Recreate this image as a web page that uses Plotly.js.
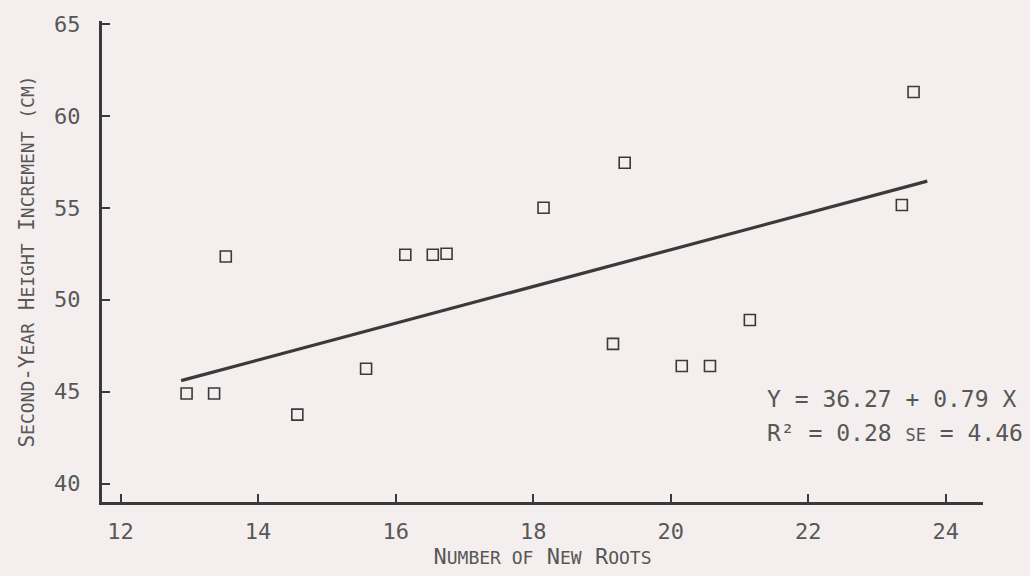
<!DOCTYPE html>
<html>
<head>
<meta charset="utf-8">
<script src="https://cdn.plot.ly/plotly-3.0.1.min.js"></script>
<style>html,body{margin:0;padding:0;background:#f4efee;}#chart{width:1030px;height:576px;}</style>
</head>
<body>
<div id="chart"></div>
<script>
// Data
const rootsX = [12.96, 13.36, 13.53, 14.57, 15.57, 16.14, 16.54, 16.74, 18.15, 19.33, 19.16, 20.16, 20.57, 21.15, 23.36, 23.53];
const heightY = [44.9, 44.9, 52.35, 43.75, 46.25, 52.45, 52.45, 52.5, 55.0, 57.45, 47.6, 46.4, 46.4, 48.9, 55.15, 61.3];
const fitX = [12.88, 23.73];
const fitY = [45.6, 56.45];
const xTicks = [12, 14, 16, 18, 20, 22, 24];
const yTicks = [40, 45, 50, 55, 60, 65];
const eqLine1 = "Y = 36.27 + 0.79 X";
const eqLine2 = "R² = 0.28 <span style='font-size:17px'>SE</span> = 4.46";

const FONT = "'DejaVu Sans Mono', 'Liberation Mono', monospace";
const TXT = "#575757";
const INK = "#3a3a3a";

const traces = [
  {
    x: fitX, y: fitY, type: "scatter", mode: "lines",
    line: {color: INK, width: 3.2}, hoverinfo: "skip", showlegend: false
  },
  {
    x: rootsX, y: heightY, type: "scatter", mode: "markers",
    marker: {symbol: "square-open", size: 11, color: INK, line: {color: INK, width: 1.6}},
    showlegend: false
  }
];

const layout = {
  width: 1030, height: 576,
  paper_bgcolor: "#f4efee", plot_bgcolor: "#f4efee",
  margin: {l: 102, r: 47, t: 21, b: 74},
  font: {family: FONT, color: TXT, size: 22},
  xaxis: {
    range: [11.73, 24.54], tickvals: xTicks, ticktext: xTicks.map(String),
    ticks: "inside", ticklen: 8, tickwidth: 2, tickcolor: INK,
    showline: true, linecolor: INK, linewidth: 3, showgrid: false, zeroline: false,
    tickfont: {family: FONT, size: 22, color: TXT}, ticklabelstandoff: 8,
    title: {text: "N<span style='font-size:18px'>UMBER OF</span> N<span style='font-size:18px'>EW</span> R<span style='font-size:18px'>OOTS</span>",
            font: {family: FONT, size: 22, color: TXT}, standoff: 4}
  },
  yaxis: {
    range: [39.0, 65.16], tickvals: yTicks, ticktext: yTicks.map(String),
    ticks: "inside", ticklen: 8, tickwidth: 2, tickcolor: INK,
    showline: true, linecolor: INK, linewidth: 3, showgrid: false, zeroline: false,
    tickfont: {family: FONT, size: 22, color: TXT}, ticklabelstandoff: 14,
    title: {text: "S<span style='font-size:18px'>ECOND</span>-Y<span style='font-size:18px'>EAR</span> H<span style='font-size:18px'>EIGHT</span> I<span style='font-size:18px'>NCREMENT</span> <span style='font-size:18px'>(CM)</span>",
            font: {family: FONT, size: 21, color: TXT}, standoff: 14}
  },
  annotations: [
    {xref: "paper", yref: "paper", x: 0.752, y: 0.215, xanchor: "left", yanchor: "middle",
     text: eqLine1, showarrow: false, font: {family: FONT, size: 23, color: TXT}},
    {xref: "paper", yref: "paper", x: 0.752, y: 0.143, xanchor: "left", yanchor: "middle",
     text: eqLine2, showarrow: false, font: {family: FONT, size: 23, color: TXT}}
  ]
};

Plotly.newPlot("chart", traces, layout, {displayModeBar: false, staticPlot: true});
</script>
</body>
</html>
